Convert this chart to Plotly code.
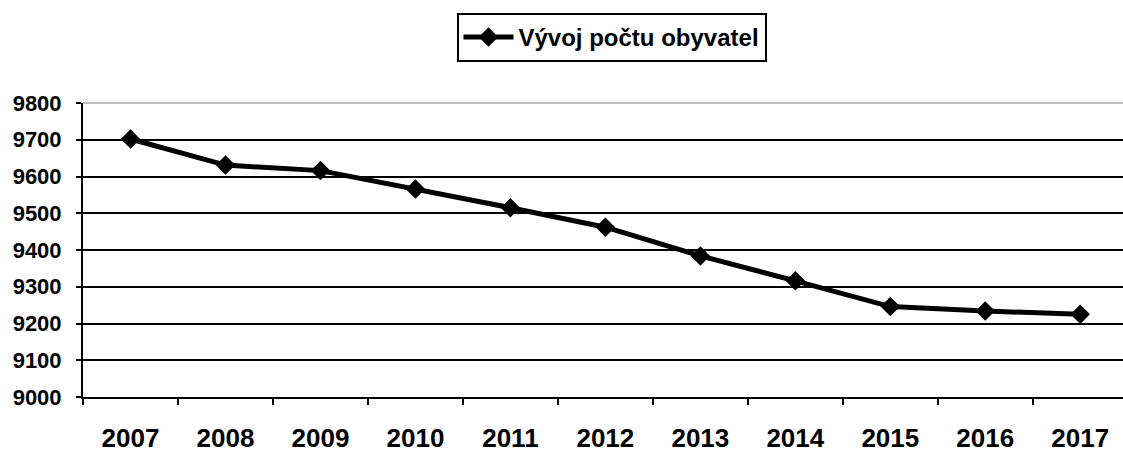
import plotly.graph_objects as go

years = ["2007", "2008", "2009", "2010", "2011", "2012", "2013", "2014", "2015", "2016", "2017"]
population = [9702, 9631, 9616, 9566, 9515, 9462, 9384, 9316, 9246, 9234, 9225]
series_name = "Vývoj počtu obyvatel"
y_ticks = [9000, 9100, 9200, 9300, 9400, 9500, 9600, 9700, 9800]
y_tick_labels = [str(v) for v in y_ticks]

FONT = "Liberation Sans, Arial, sans-serif"

fig = go.Figure()
fig.add_trace(go.Scatter(
    x=years, y=population, name=series_name, mode="lines+markers",
    line=dict(color="black", width=5),
    marker=dict(symbol="diamond", size=15, color="black"),
    showlegend=True,
))

fig.update_layout(
    width=1123, height=452,
    margin=dict(l=83, r=0, t=103, b=55, autoexpand=False),
    paper_bgcolor="white", plot_bgcolor="white",
    font=dict(family=FONT, color="black"),
    showlegend=True,
    legend=dict(
        orientation="h", xref="container", yref="container",
        x=611.5 / 1123, xanchor="center", y=1 - 13 / 452, yanchor="top",
        bordercolor="black", borderwidth=2, bgcolor="white",
        itemwidth=50,
        font=dict(family=FONT, size=24, weight="bold", color="black"),
    ),
    xaxis=dict(
        type="category", range=[-0.5, 10.45], automargin=False,
        showgrid=False, showline=True, linecolor="black", linewidth=2,
        ticks="outside", tickson="boundaries", ticklen=6, tickwidth=2, tickcolor="black",
        tickfont=dict(family=FONT, size=26, weight="bold", color="black"),
        ticklabelstandoff=17,
        zeroline=False,
    ),
    yaxis=dict(
        range=[9000, 9800], tickmode="array", tickvals=y_ticks, ticktext=y_tick_labels,
        automargin=False,
        showgrid=True, gridcolor="black", gridwidth=2,
        showline=True, linecolor="black", linewidth=2,
        ticks="outside", ticklen=5, tickwidth=2, tickcolor="black",
        tickfont=dict(family=FONT, size=22, weight="bold", color="black"),
        ticklabelstandoff=10,
        zeroline=False,
    ),
    shapes=[dict(type="line", xref="paper", yref="paper", x0=0, x1=1, y0=1, y1=1,
                 line=dict(color="#c0c0c0", width=2), layer="above")],
)

fig.write_html(
    "out.html",
    config={"displayModeBar": False},
    post_script="document.body.style.margin='0';document.body.style.overflow='hidden';",
)
